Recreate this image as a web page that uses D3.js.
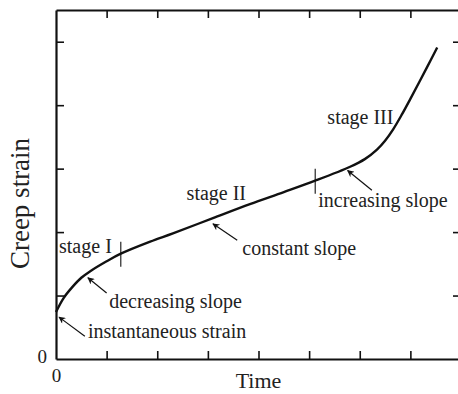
<!DOCTYPE html>
<html>
<head>
<meta charset="utf-8">
<script src="https://cdn.jsdelivr.net/npm/d3@7"></script>
<style>
  body { margin: 0; background: #fff; }
  svg text { font-family: "Liberation Serif", "Times New Roman", serif; fill: #222; }
</style>
</head>
<body>
<div id="chart"></div>
<script>
// creep curve (time, strain in tick units)
const timeValues   = [0, 0.15, 0.33, 0.5, 0.67, 1.0, 1.28, 1.86, 2.31, 3.1, 3.83, 4.5, 5.12, 5.81, 6.1, 6.34, 6.5, 6.66, 6.83, 7.0, 7.33, 7.53];
const strainValues = [0.74, 0.96, 1.14, 1.28, 1.38, 1.54, 1.66, 1.85, 1.98, 2.22, 2.44, 2.63, 2.81, 3.03, 3.15, 3.3, 3.44, 3.62, 3.85, 4.1, 4.6, 4.91];

const xTicks = [0, 1, 2, 3, 4, 5, 6, 7, 8];
const yTicks = [0, 1, 2, 3, 4, 5];

// stage boundaries (time)
const stageBounds = [1.28, 5.12];

const stageLabels = ["stage I", "stage II", "stage III"];
const noteLabels = ["instantaneous strain", "decreasing slope", "constant slope", "increasing slope"];

const width = 458, height = 394;
const margin = { top: 10, left: 56 };
const plotW = 405, plotH = 349;

const svg = d3.select("#chart").append("svg")
  .attr("width", width)
  .attr("height", height);

const g = svg.append("g")
  .attr("transform", `translate(${margin.left},${margin.top})`);

const x = d3.scaleLinear().domain([0, 8]).range([0, plotW]);
const y = d3.scaleLinear().domain([0, 5.5]).range([plotH, 0]);

const tickFmt = d => d === 0 ? "0" : "";

// axes with inward ticks on all four sides
const axBottom = g.append("g")
  .attr("transform", `translate(0,${plotH})`)
  .call(d3.axisBottom(x).tickValues(xTicks).tickSizeInner(-8).tickSizeOuter(0).tickPadding(10).tickFormat(tickFmt));
const axTop = g.append("g")
  .call(d3.axisTop(x).tickValues(xTicks).tickSizeInner(-8).tickSizeOuter(0).tickFormat(""));
const axLeft = g.append("g")
  .call(d3.axisLeft(y).tickValues(yTicks).tickSizeInner(-8).tickSizeOuter(0).tickPadding(9).tickFormat(tickFmt));
const axRight = g.append("g")
  .attr("transform", `translate(${plotW},0)`)
  .call(d3.axisRight(y).tickValues(yTicks).tickSizeInner(-8).tickSizeOuter(0).tickFormat(""));

[axBottom, axTop, axLeft, axRight].forEach(ax => {
  ax.select(".domain").attr("stroke", "#111").attr("stroke-width", 2.2);
  ax.selectAll(".tick line").attr("stroke", "#111").attr("stroke-width", 1.6);
  ax.selectAll(".tick text")
    .style("font-family", "Liberation Serif, serif")
    .style("font-size", "19px")
    .attr("fill", "#222");
});
// drop ticks that sit on the frame corners
[axBottom, axTop].forEach(ax => ax.selectAll(".tick line").filter(d => d === 0 || d === 8).remove());
[axLeft, axRight].forEach(ax => ax.selectAll(".tick line").filter(d => d === 0).remove());
axLeft.selectAll(".tick text").attr("dy", "0.2em");

// axis titles
g.append("text")
  .attr("x", x(4))
  .attr("y", plotH + 29)
  .attr("text-anchor", "middle")
  .style("font-size", "22px")
  .text("Time");

g.append("text")
  .attr("transform", `translate(${-27},${plotH / 2 + 19}) rotate(-90)`)
  .attr("text-anchor", "middle")
  .style("font-size", "27px")
  .text("Creep strain");

// creep curve
const pts = timeValues.map((t, i) => [t, strainValues[i]]);
const line = d3.line()
  .x(d => x(d[0]))
  .y(d => y(d[1]))
  .curve(d3.curveCatmullRom.alpha(0.5));

g.append("path")
  .datum(pts)
  .attr("fill", "none")
  .attr("stroke", "#111")
  .attr("stroke-width", 2.4)
  .attr("d", line);

// stage boundary markers
const interp = d3.scaleLinear().domain(timeValues).range(strainValues);
g.selectAll(".stage-mark")
  .data(stageBounds)
  .enter()
  .append("line")
  .attr("class", "stage-mark")
  .attr("x1", d => x(d)).attr("x2", d => x(d))
  .attr("y1", d => y(interp(d)) - 12)
  .attr("y2", d => y(interp(d)) + 13)
  .attr("stroke", "#111")
  .attr("stroke-width", 1.1);

// text placement (data coordinates)
const stagePos = [[0.06, 1.67], [2.58, 2.5], [5.36, 3.7]];
g.selectAll(".stage-label")
  .data(stageLabels)
  .enter()
  .append("text")
  .attr("class", "stage-label")
  .attr("x", (d, i) => x(stagePos[i][0]))
  .attr("y", (d, i) => y(stagePos[i][1]))
  .style("font-size", "20px")
  .text(d => d);

const notePos = [[0.63, 0.33], [1.05, 0.8], [3.68, 1.64], [5.18, 2.39]];
g.selectAll(".note-label")
  .data(noteLabels)
  .enter()
  .append("text")
  .attr("class", "note-label")
  .attr("x", (d, i) => x(notePos[i][0]))
  .attr("y", (d, i) => y(notePos[i][1]))
  .style("font-size", "20px")
  .text(d => d);

// arrows: [tail, head] in data coordinates
const arrows = [
  [[0.57, 0.36], [0.06, 0.66]],
  [[1.0, 1.04], [0.63, 1.28]],
  [[3.58, 1.87], [3.1, 2.13]],
  [[6.24, 2.66], [5.76, 2.97]]
];

svg.append("defs").append("marker")
  .attr("id", "head")
  .attr("viewBox", "0 0 10 10")
  .attr("refX", 9).attr("refY", 5)
  .attr("markerWidth", 9).attr("markerHeight", 7)
  .attr("markerUnits", "userSpaceOnUse")
  .attr("orient", "auto")
  .append("path")
  .attr("d", "M0,0 L10,5 L0,10 L3,5 Z")
  .attr("fill", "#111");

g.selectAll(".arrow")
  .data(arrows)
  .enter()
  .append("line")
  .attr("class", "arrow")
  .attr("x1", d => x(d[0][0])).attr("y1", d => y(d[0][1]))
  .attr("x2", d => x(d[1][0])).attr("y2", d => y(d[1][1]))
  .attr("stroke", "#111")
  .attr("stroke-width", 1.2)
  .attr("marker-end", "url(#head)");
</script>
</body>
</html>
